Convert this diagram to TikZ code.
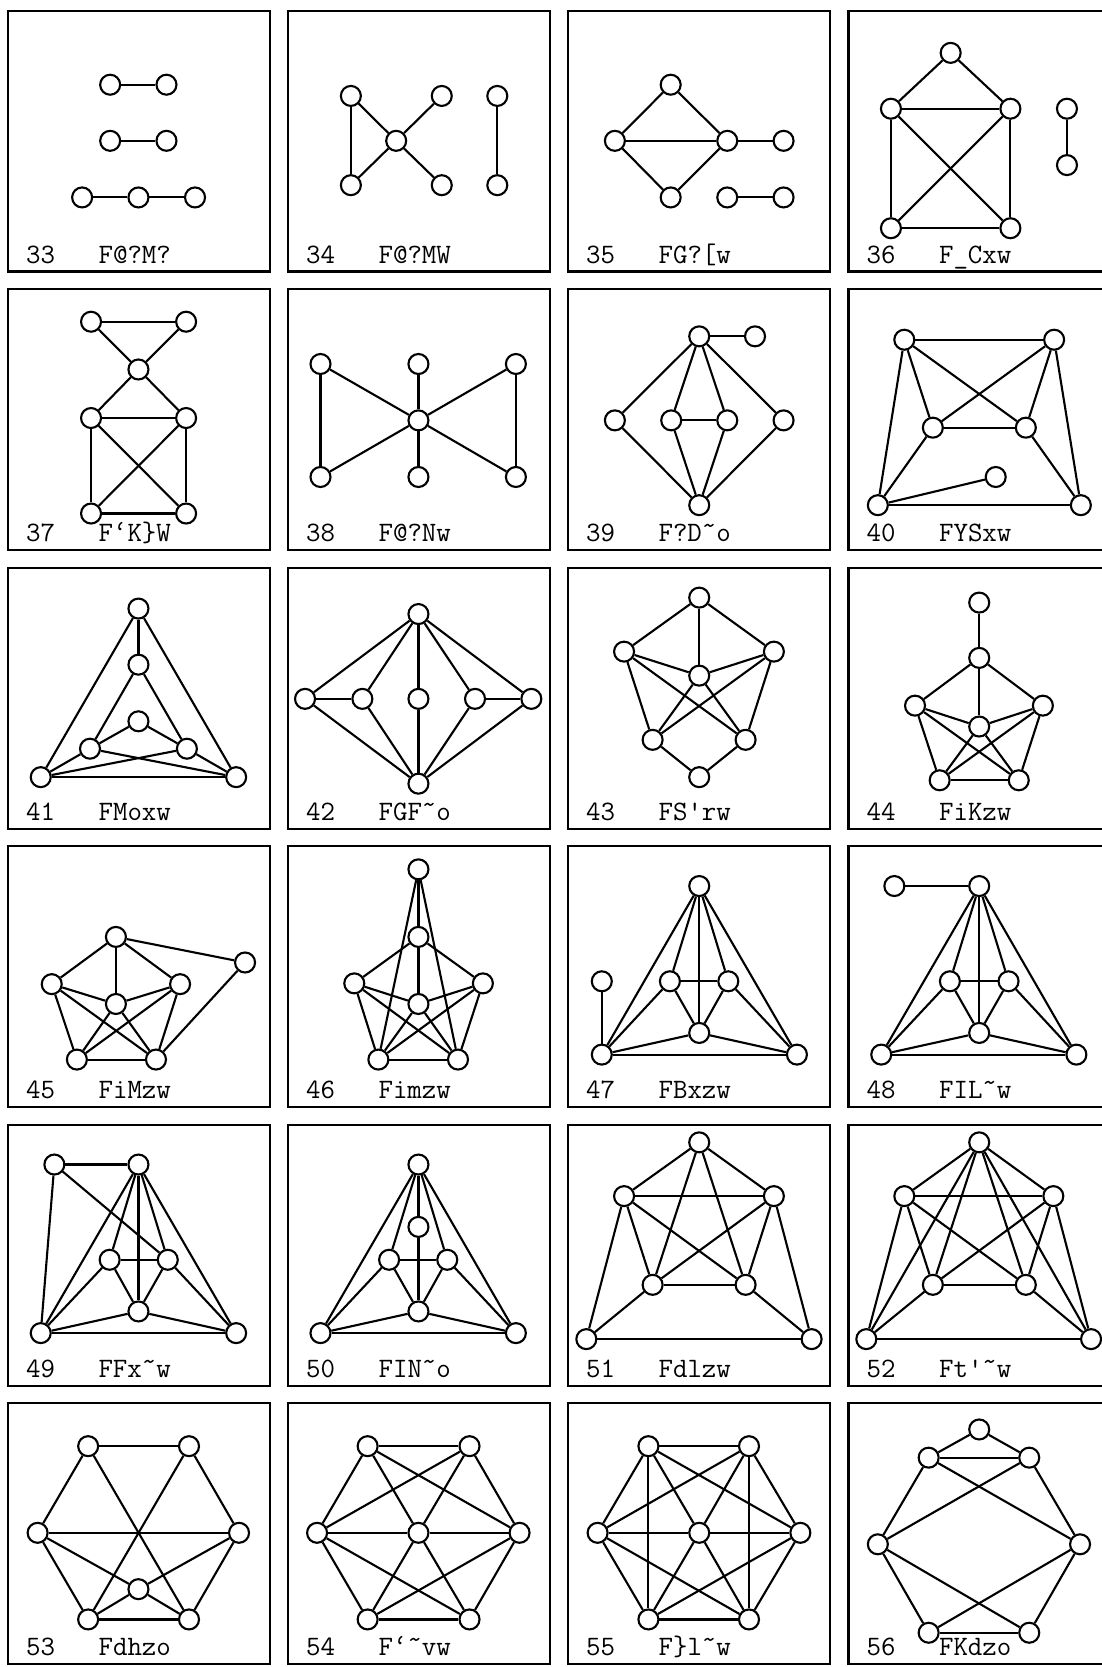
\documentclass[tikz,border=0pt]{standalone}
\tikzset{
 panel/.style 2 args={shift={(#1,#2)},x=0.0524cm,y=-0.0522cm},
 gv/.style={circle,draw,fill=white,minimum size=0.4cm,inner sep=0pt,line width=1.2pt},
 ge/.style={line width=1.2pt},
 gbox/.style={line width=1.2pt},
 glabel/.style={anchor=base west,inner sep=0pt,font=\fontsize{16}{16}\selectfont\ttfamily},
}
\newcommand\gnodes[2]{\foreach \n/\x/\y in {#2} {\node[gv] (#1\n) at (\x,\y) {};}}
\newcommand\gedges[2]{\foreach \s/\t in {#2} {\draw[ge] (#1\s) -- (#1\t);}}
\newcommand\tld{\symbol{"02DC}}
\begin{document}
\begin{tikzpicture}[x=0.02cm,y=-0.02cm]
\useasboundingbox (0,0) rectangle (1102,1667);
\fill[white] (0,0) rectangle (1102,1667);
% ---------- row 1
\begin{scope}[panel={8}{10.6}]
\draw[gbox] (0,0) rectangle (100,100);
\gnodes{n33}{a/39.0/28.4,b/60.5/28.4,c/39.0/49.9,d/60.5/49.9,e/28.3/71.6,f/49.8/71.6,g/71.4/71.6}
\gedges{n33}{a/b,c/d,e/f,f/g}
\node[glabel] (L33) at (6.8,96.8) {33~~~F@?M?};
\end{scope}
\begin{scope}[panel={288}{10.6}]
\draw[gbox] (0,0) rectangle (100,100);
\gnodes{n34}{a/24.0/32.7,b/58.7/32.7,c/79.9/32.7,d/41.3/49.9,e/24.0/66.9,f/58.7/66.9,g/79.9/66.9}
\gedges{n34}{a/e,a/d,d/b,d/e,d/f,c/g}
\node[glabel] (L34) at (6.8,96.8) {34~~~F@?MW};
\end{scope}
\begin{scope}[panel={568}{10.6}]
\draw[gbox] (0,0) rectangle (100,100);
\gnodes{n35}{a/39.2/28.4,b/17.9/49.9,c/60.8/49.9,d/82.3/49.9,e/39.2/71.6,f/60.8/71.6,g/82.3/71.6}
\gedges{n35}{a/b,a/c,b/c,b/e,e/c,c/d,f/g}
\node[glabel] (L35) at (6.8,96.8) {35~~~FG?[w};
\end{scope}
\begin{scope}[panel={848.5}{10.6}]
\draw[gbox] (0,0) rectangle (100,100);
\gnodes{n36}{a/39.0/16.2,b/16.2/37.6,c/61.8/37.6,d/16.2/83.4,e/61.8/83.4,f/83.4/37.6,g/83.4/59.2}
\gedges{n36}{a/b,a/c,b/c,b/d,c/e,d/e,b/e,c/d,f/g}
\node[glabel] (L36) at (6.8,96.8) {36~~~F\_Cxw};
\end{scope}
% ---------- row 2
\begin{scope}[panel={8}{289.1}]
\draw[gbox] (0,0) rectangle (100,100);
\gnodes{n37}{a/31.7/12.5,b/68.0/12.5,c/49.8/30.8,d/31.7/49.4,e/68.0/49.4,f/31.7/86.0,g/68.0/86.0}
\gedges{n37}{a/b,a/c,b/c,c/d,c/e,d/e,d/f,e/g,f/g,d/g,e/f}
\node[glabel] (L37) at (6.8,96.8) {37~~~F\textquoteleft K\}W};
\end{scope}
\begin{scope}[panel={288}{289.1}]
\draw[gbox] (0,0) rectangle (100,100);
\gnodes{n38}{a/12.4/28.7,b/49.8/28.7,c/87.0/28.7,d/49.8/50.3,e/12.4/72.0,f/49.8/72.0,g/87.0/72.0}
\gedges{n38}{a/e,c/g,d/a,d/b,d/c,d/e,d/f,d/g}
\node[glabel] (L38) at (6.8,96.8) {38~~~F@?Nw};
\end{scope}
\begin{scope}[panel={568}{289.1}]
\draw[gbox] (0,0) rectangle (100,100);
\gnodes{n39}{a/50.1/18.1,b/71.4/18.1,c/17.9/50.3,d/39.4/50.3,e/60.8/50.3,f/82.3/50.3,g/50.1/82.8}
\gedges{n39}{a/b,a/c,a/d,a/e,a/f,d/e,c/g,d/g,e/g,f/g}
\node[glabel] (L39) at (6.8,96.8) {39~~~F?D\tld o};
\end{scope}
\begin{scope}[panel={848.5}{289.1}]
\draw[gbox] (0,0) rectangle (100,100);
\gnodes{n40}{a/21.3/19.4,b/78.5/19.4,c/32.2/53.1,d/67.7/53.1,e/56.2/72.0,f/11.2/82.8,g/88.7/82.8}
\gedges{n40}{a/b,a/c,a/d,b/c,b/d,c/d,a/f,b/g,c/f,d/g,f/g,f/e}
\node[glabel] (L40) at (6.8,96.8) {40~~~FYSxw};
\end{scope}
% ---------- row 3
\begin{scope}[panel={8}{567.6}]
\draw[gbox] (0,0) rectangle (100,100);
\gnodes{n41}{a/49.8/15.7,b/49.8/37.2,c/49.8/58.9,d/31.3/69.4,e/68.3/69.4,f/12.5/80.3,g/87.1/80.3}
\gedges{n41}{a/b,a/f,a/g,b/d,b/e,c/d,c/e,d/f,d/g,e/f,e/g,f/g}
\node[glabel] (L41) at (6.8,96.8) {41~~~FMoxw};
\end{scope}
\begin{scope}[panel={288}{567.6}]
\draw[gbox] (0,0) rectangle (100,100);
\gnodes{n42}{a/49.8/17.8,b/6.5/50.3,c/28.4/50.3,d/49.8/50.3,e/71.4/50.3,f/92.9/50.3,g/49.8/82.8}
\gedges{n42}{a/b,a/c,a/d,a/e,a/f,b/c,e/f,b/g,c/g,d/g,e/g,f/g}
\node[glabel] (L42) at (6.8,96.8) {42~~~FGF\tld o};
\end{scope}
\begin{scope}[panel={568}{567.6}]
\draw[gbox] (0,0) rectangle (100,100);
\gnodes{n43}{a/50.1/11.5,b/21.4/32.2,c/78.6/32.2,d/50.1/41.4,e/32.3/66.0,f/67.8/66.0,g/50.1/80.3}
\gedges{n43}{a/b,a/c,a/d,b/d,c/d,b/e,b/f,c/e,c/f,d/e,d/f,e/g,f/g}
\node[glabel] (L43) at (6.8,96.8) {43~~~FS\textquotesingle rw};
\end{scope}
\begin{scope}[panel={848.5}{567.6}]
\draw[gbox] (0,0) rectangle (100,100);
\gnodes{n44}{a/49.9/13.4,b/49.9/34.6,c/25.4/52.9,d/74.2/52.9,e/49.9/60.9,f/34.8/81.5,g/65.0/81.5}
\gedges{n44}{a/b,b/c,b/d,b/e,c/e,d/e,c/f,c/g,d/f,d/g,e/f,e/g,f/g}
\node[glabel] (L44) at (6.8,96.8) {44~~~FiKzw};
\end{scope}
% ---------- row 4
\begin{scope}[panel={8}{846.1}]
\draw[gbox] (0,0) rectangle (100,100);
\gnodes{n45}{a/41.2/34.8,b/90.5/44.6,c/16.7/52.9,d/65.7/52.9,e/41.2/60.5,f/26.3/81.8,g/56.5/81.8}
\gedges{n45}{a/c,a/d,a/e,a/b,c/e,d/e,c/f,c/g,d/f,d/g,e/f,e/g,f/g,b/g}
\node[glabel] (L45) at (6.8,96.8) {45~~~FiMzw};
\end{scope}
\begin{scope}[panel={288}{846.1}]
\draw[gbox] (0,0) rectangle (100,100);
\gnodes{n46}{a/49.8/8.9,b/49.8/34.8,c/25.3/52.6,d/74.4/52.6,e/49.8/60.5,f/34.5/81.8,g/64.9/81.8}
\gedges{n46}{a/b,a/f,a/g,b/c,b/d,b/e,c/e,d/e,c/f,c/g,d/f,d/g,e/f,e/g,f/g}
\node[glabel] (L46) at (6.8,96.8) {46~~~Fimzw};
\end{scope}
\begin{scope}[panel={568}{846.1}]
\draw[gbox] (0,0) rectangle (100,100);
\gnodes{n47}{a/50.1/15.3,b/12.9/51.8,c/38.9/51.8,d/61.2/51.8,e/50.1/71.6,f/12.9/79.9,g/87.4/79.9}
\gedges{n47}{b/f,a/f,a/c,a/e,a/d,a/g,c/d,c/f,c/e,d/e,d/g,e/f,e/g,f/g}
\node[glabel] (L47) at (6.8,96.8) {47~~~FBxzw};
\end{scope}
\begin{scope}[panel={848.5}{846.1}]
\draw[gbox] (0,0) rectangle (100,100);
\gnodes{n48}{a/49.9/15.3,b/17.5/15.3,c/38.7/51.8,d/61.1/51.8,e/49.9/71.6,f/12.5/79.9,g/87.0/79.9}
\gedges{n48}{b/a,a/f,a/c,a/e,a/d,a/g,c/d,c/f,c/e,d/e,d/g,e/f,e/g,f/g}
\node[glabel] (L48) at (6.8,96.8) {48~~~FIL\tld w};
\end{scope}
% ---------- row 5
\begin{scope}[panel={8}{1124.6}]
\draw[gbox] (0,0) rectangle (100,100);
\gnodes{n49}{a/49.8/15.3,b/17.7/15.3,c/38.8/51.8,d/61.0/51.8,e/49.8/71.6,f/12.5/79.9,g/87.1/79.9}
\gedges{n49}{b/a,b/f,b/d,a/f,a/c,a/e,a/d,a/g,c/d,c/f,c/e,d/e,d/g,e/f,e/g,f/g}
\node[glabel] (L49) at (6.8,96.8) {49~~~FFx\tld w};
\end{scope}
\begin{scope}[panel={288}{1124.6}]
\draw[gbox] (0,0) rectangle (100,100);
\gnodes{n50}{a/49.8/15.3,b/49.8/39.2,c/38.6/51.8,d/60.8/51.8,e/49.8/71.6,f/12.4/79.9,g/87.0/79.9}
\gedges{n50}{a/b,b/e,a/c,a/d,a/f,a/g,c/d,c/f,c/e,d/e,d/g,e/f,e/g,f/g}
\node[glabel] (L50) at (6.8,96.8) {50~~~FIN\tld o};
\end{scope}
\begin{scope}[panel={568}{1124.6}]
\draw[gbox] (0,0) rectangle (100,100);
\gnodes{n51}{a/50.1/6.8,b/21.4/27.4,c/78.6/27.4,d/32.3/61.4,e/67.8/61.4,f/7.0/82.2,g/93.0/82.2}
\gedges{n51}{a/b,a/c,a/d,a/e,b/c,b/d,b/e,c/d,c/e,d/e,b/f,c/g,d/f,e/g,f/g}
\node[glabel] (L51) at (6.8,96.8) {51~~~Fdlzw};
\end{scope}
\begin{scope}[panel={848.5}{1124.6}]
\draw[gbox] (0,0) rectangle (100,100);
\gnodes{n52}{a/49.9/6.8,b/21.3/27.4,c/78.2/27.4,d/32.2/61.4,e/67.7/61.4,f/6.8/82.2,g/92.6/82.2}
\gedges{n52}{a/b,a/c,a/d,a/e,a/f,a/g,b/c,b/d,b/e,c/d,c/e,d/e,b/f,c/g,d/f,e/g,f/g}
\node[glabel] (L52) at (6.8,96.8) {52~~~Ft\textquotesingle\tld w};
\end{scope}
% ---------- row 6
\begin{scope}[panel={8}{1403.1}]
\draw[gbox] (0,0) rectangle (100,100);
\gnodes{n53}{a/30.6/16.5,b/69.1/16.5,c/11.3/49.7,d/88.2/49.7,e/49.8/71.3,f/30.6/82.9,g/69.1/82.9}
\gedges{n53}{a/b,a/c,b/d,c/d,a/g,b/f,c/f,d/g,f/g,c/e,d/e,f/e,g/e}
\node[glabel] (L53) at (6.8,96.8) {53~~~Fdhzo};
\end{scope}
\begin{scope}[panel={288}{1403.1}]
\draw[gbox] (0,0) rectangle (100,100);
\gnodes{n54}{a/30.4/16.5,b/69.3/16.5,c/11.1/49.7,d/49.8/49.7,e/88.4/49.7,f/30.4/82.9,g/69.3/82.9}
\gedges{n54}{a/b,a/c,a/d,a/e,b/c,b/d,b/e,c/d,d/e,c/f,c/g,d/f,d/g,e/f,e/g,f/g}
\node[glabel] (L54) at (6.8,96.8) {54~~~F\textquoteleft\tld vw};
\end{scope}
\begin{scope}[panel={568}{1403.1}]
\draw[gbox] (0,0) rectangle (100,100);
\gnodes{n55}{a/30.7/16.5,b/69.1/16.5,c/11.3/49.7,d/50.1/49.7,e/88.7/49.7,f/30.7/82.9,g/69.1/82.9}
\gedges{n55}{a/b,a/c,a/d,a/e,a/f,b/c,b/d,b/e,b/g,c/d,d/e,c/f,c/g,d/f,d/g,e/f,e/g,f/g}
\node[glabel] (L55) at (6.8,96.8) {55~~~F\}l\tld w};
\end{scope}
\begin{scope}[panel={848.5}{1403.1}]
\draw[gbox] (0,0) rectangle (100,100);
\gnodes{n56}{a/49.9/10.1,b/30.6/20.9,c/69.0/20.9,d/11.2/54.1,e/88.4/54.1,f/30.6/88.0,g/69.0/88.0}
\gedges{n56}{a/b,a/c,b/c,b/d,c/e,b/e,c/d,d/f,e/g,d/g,e/f,f/g}
\node[glabel] (L56) at (6.8,96.8) {56~~~FKdzo};
\end{scope}
\end{tikzpicture}
\end{document}
